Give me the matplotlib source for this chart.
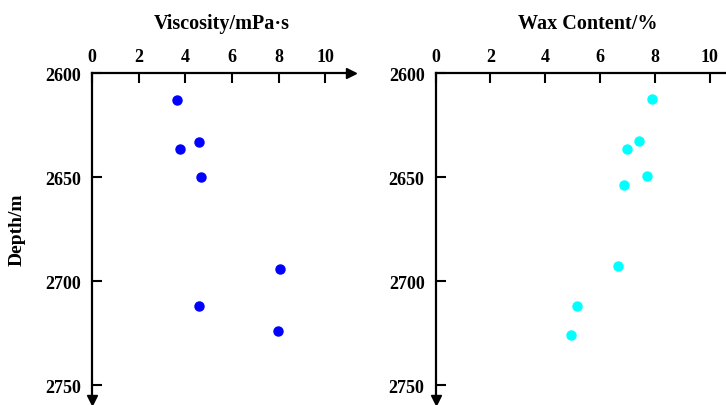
import numpy as np
import matplotlib
matplotlib.use('Agg')
import matplotlib.pyplot as plt

plt.rcParams['font.family'] = ['Liberation Serif', 'DejaVu Serif']
plt.rcParams['font.weight'] = 'bold'

# Viscosity panel
visc = [3.63, 4.58, 3.76, 4.69, 8.05, 4.60, 7.98]
visc_depth = [2613, 2633, 2636.5, 2650, 2694, 2712, 2724]

# Wax content panel
wax = [7.88, 7.42, 6.98, 7.72, 6.86, 6.65, 5.16, 4.95]
wax_depth = [2612.6, 2632.5, 2636.4, 2649.4, 2654, 2692.6, 2712, 2725.6]

xticks = [0, 2, 4, 6, 8, 10]
yticks = [2600, 2650, 2700, 2750]


def style_axis(ax, xmax, xlabel):
    ax.set_xlim(0, xmax)
    ax.set_ylim(2757, 2600)
    ax.xaxis.tick_top()
    ax.xaxis.set_label_position('top')
    ax.set_xticks(xticks)
    ax.set_yticks(yticks)
    for s in ['right', 'bottom']:
        ax.spines[s].set_visible(False)
    for s in ['top', 'left']:
        ax.spines[s].set_linewidth(1.6)
    ax.tick_params(axis='both', direction='in', length=7, width=1.5,
                   labelsize=13)
    ax.tick_params(axis='x', pad=6)
    ax.tick_params(axis='y', pad=8)
    for lab in ax.get_xticklabels() + ax.get_yticklabels():
        lab.set_fontweight('bold')
    ax.set_xlabel(xlabel, fontsize=14.5, fontweight='bold', labelpad=14)
    # arrow heads at the ends of the axes
    ax.plot(1, 1, marker='>', color='black', markersize=7,
            transform=ax.transAxes, clip_on=False)
    ax.plot(0, 0, marker='v', color='black', markersize=7,
            transform=ax.transAxes, clip_on=False)


fig = plt.figure(figsize=(7.26, 4.06), dpi=100)
ax1 = fig.add_axes([0.1267, 0.0123, 0.3567, 0.8054])
ax2 = fig.add_axes([0.6001, 0.0123, 0.419, 0.8054])

ax1.plot(visc, visc_depth, 'o', color='#0000FF', markersize=6.5, clip_on=False)
ax2.plot(wax, wax_depth, 'o', color='#00FFFF', markersize=6.5, clip_on=False)

style_axis(ax1, 11.1, 'Viscosity/mPa·s')
style_axis(ax2, 11.1, 'Wax Content/%')

ax1.set_ylabel('Depth/m', fontsize=14, fontweight='bold')
ax1.yaxis.set_label_coords(-0.255, 0.523)

fig.savefig('out.png', dpi=100)
